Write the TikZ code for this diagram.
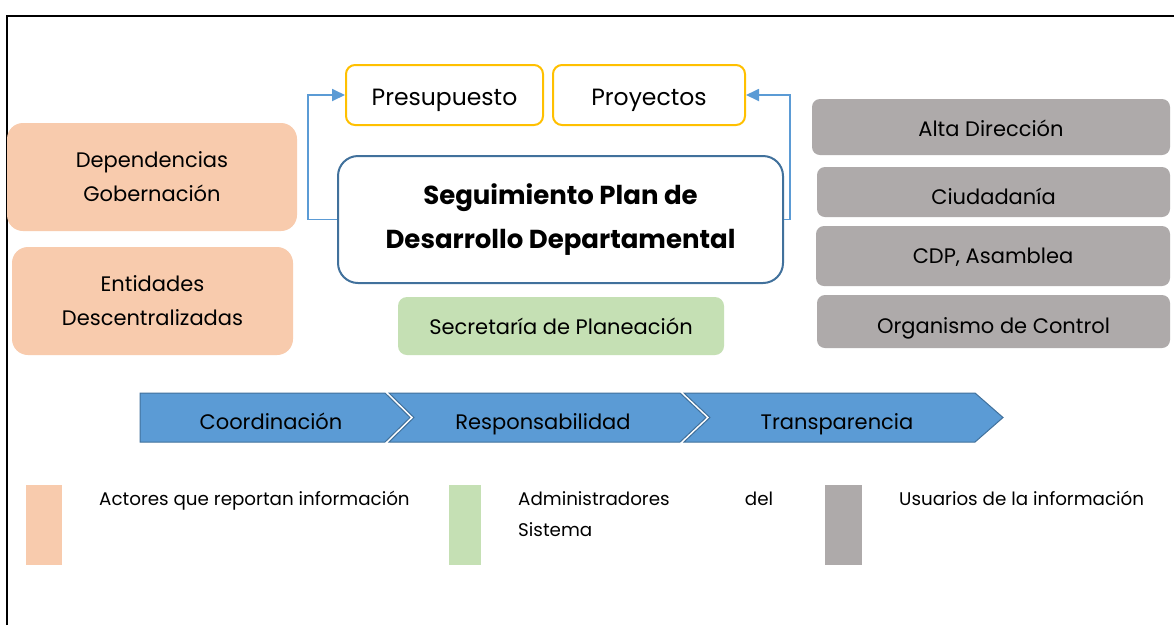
\documentclass[tikz,border=0pt]{standalone}
\usepackage{fontspec}
\setmainfont{Poppins}
\usetikzlibrary{arrows.meta}
\definecolor{cOrange}{HTML}{F8CBAD}
\definecolor{cGreen}{HTML}{C5E0B4}
\definecolor{cGray}{HTML}{AEAAAA}
\definecolor{cYellow}{HTML}{FFC000}
\definecolor{cBlue}{HTML}{5B9BD5}
\definecolor{cDark}{HTML}{41719C}
\tikzset{
  fs/.style={font=\fontsize{#1}{#1}\selectfont},
  drop/.style={text height=#1, text depth=2pt},
  topbox/.style={draw=cYellow, line width=2pt, rounded corners=9pt, fill=white, inner sep=0pt, fs=23.5, drop=23.8pt},
  mainbox/.style={draw=cDark, line width=2pt, rounded corners=20pt, fill=white, inner sep=0pt, align=center, font=\fontsize{26}{44}\selectfont\bfseries},
  actor/.style={fill=cOrange, rounded corners=16pt, inner sep=0pt, align=center, font=\fontsize{21}{34}\selectfont},
  admin/.style={fill=cGreen, rounded corners=9pt, inner sep=0pt, fs=21, drop=19.8pt},
  user/.style={fill=cGray, rounded corners=8pt, inner sep=0pt, fs=21, drop=21.7pt},
  conn/.style={draw=cBlue, line width=1.8pt, -{Triangle[length=13pt,width=12pt]}},
  chev/.style={fill=cBlue, draw=cDark, line width=1pt},
  chevtxt/.style={fs=21, anchor=base, inner sep=0pt},
  legtxt/.style={font=\fontsize{18.3}{31}\selectfont, anchor=base west, inner sep=0pt, align=left},
}
\begin{document}
\begin{tikzpicture}[x=1pt,y=-1pt]
\useasboundingbox (0,0) rectangle (1174,625);
\fill[white] (0,0) rectangle (1174,625);
% frame
\draw[line width=2.5pt] (7,625) -- (7,16) -- (1174,16);

% top boxes
\node[topbox, minimum width=197, minimum height=60] (pres) at (444.5,95) {Presupuesto};
\node[topbox, minimum width=192, minimum height=60] (proy) at (649,95) {Proyectos};

% main box
\node[mainbox, minimum width=445, minimum height=127] (main) at (560.5,219.5) {Seguimiento Plan de\\Desarrollo Departamental};

% connectors
\draw[conn] (main.west) -- ++(-29,0) |- (pres.west);
\draw[conn] (main.east) -- ++(6,0) |- (proy.east);

% actors
\node[actor, minimum width=290, minimum height=108] (dep) at (152,177) {Dependencias\\Gobernación};
\node[actor, minimum width=281, minimum height=108] (ent) at (152.5,301) {Entidades\\Descentralizadas};

% admin
\node[admin, minimum width=326, minimum height=58] (sec) at (561,326) {Secretaría de Planeación};

% users
\node[user, minimum width=358, minimum height=56] (alta) at (991,127) {Alta Dirección};
\node[user, drop=26.5pt, minimum width=353, minimum height=50] (ciud) at (993.5,192) {Ciudadanía};
\node[user, drop=17.8pt, minimum width=354, minimum height=60] (cdp) at (993,256) {CDP, Asamblea};
\node[user, drop=25.6pt, minimum width=353, minimum height=53] (org) at (993.5,321.5) {Organismo de Control};

% chevrons
\draw[chev] (140,393) -- (385,393) -- (410,417.5) -- (385,442) -- (140,442) -- cycle;
\draw[chev] (389,393) -- (680,393) -- (706,417.5) -- (680,442) -- (389,442) -- (414,417.5) -- cycle;
\draw[chev] (684,393) -- (975,393) -- (1003,417.5) -- (975,442) -- (684,442) -- (710,417.5) -- cycle;
\node[chevtxt] (coord) at (271,429) {Coordinación};
\node[chevtxt] (resp) at (543,429) {Responsabilidad};
\node[chevtxt] (trans) at (837,429) {Transparencia};

% legend
\fill[cOrange] (26,485) rectangle (62,565);
\fill[cGreen] (449,485) rectangle (481,565);
\fill[cGray] (825,485) rectangle (862,565);
\node[legtxt] (lg1) at (99,505) {Actores que reportan información};
\node[legtxt, text width=255] (lg2) at (518,505) {Administradores\hfill del\\Sistema};
\node[legtxt] (lg3) at (899,505) {Usuarios de la información};
\end{tikzpicture}
\end{document}
